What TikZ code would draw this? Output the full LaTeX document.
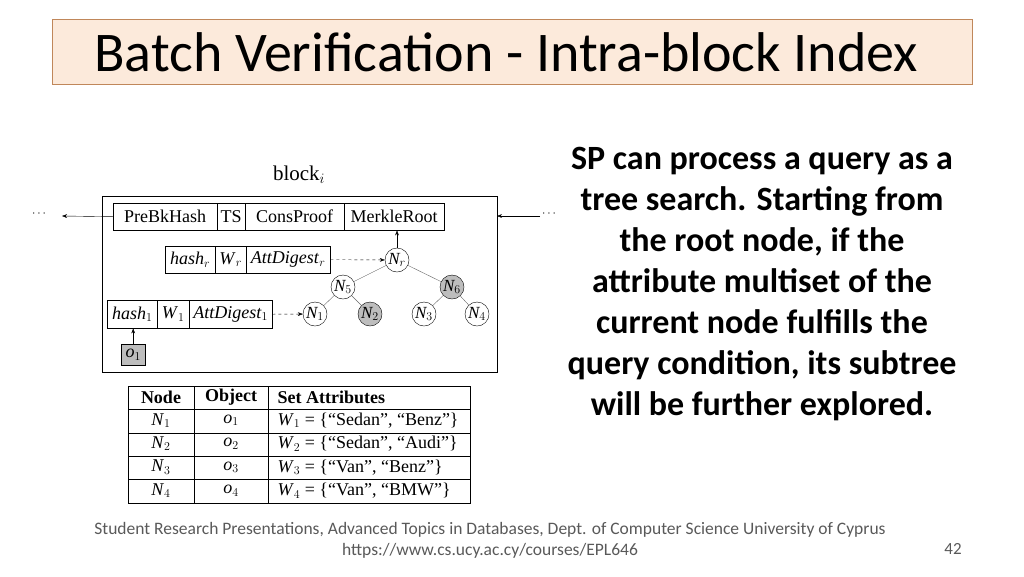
\documentclass[tikz,border=0pt]{standalone}
\usepackage{fontspec}
\setmainfont{Liberation Serif}
\newfontfamily\carl{Carlito}
\usetikzlibrary{arrows.meta}
\definecolor{peach}{HTML}{FCEADB}
\definecolor{brd}{HTML}{C0875A}
\definecolor{ng}{HTML}{BDBDBD}
\begin{document}
\begin{tikzpicture}[x=1pt,y=-1pt,
  cell/.style={draw,inner sep=0,font=\fontsize{18}{20}\selectfont},
  tn/.style={draw,circle,inner sep=0,minimum size=24,font=\fontsize{17}{18}\selectfont\itshape},
  gn/.style={tn,fill=ng},
  arr/.style={-{Stealth[length=5pt]},thin},
  tc/.style={font=\fontsize{18}{20}\selectfont,anchor=center}]
\useasboundingbox (0,0) rectangle (1024,576);
\node[draw=brd,fill=peach,minimum width=920,minimum height=65,anchor=north west] (title) at (52,19) {};
\node[anchor=west,font=\carl\fontsize{56}{60}\selectfont] (tt) at (91,52) {Batch Verification - Intra-block Index};
\node[align=center,font=\carl\bfseries\fontsize{34}{41}\selectfont] (txt) at (762,284) {SP can process a query as a\\tree search. Starting from\\the root node, if the\\attribute multiset of the\\current node fulfills the\\query condition, its subtree\\will be further explored.};
\node[font=\carl\fontsize{17.5}{21}\selectfont,text=black!65,align=center] (foot) at (490,540) {Student Research Presentations, Advanced Topics in Databases, Dept. of Computer Science University of Cyprus\\https://www.cs.ucy.ac.cy/courses/EPL646};
\node[font=\carl\fontsize{17}{18}\selectfont,text=black!65] (pg) at (953,549) {42};
% diagram
\node[font=\fontsize{21}{22}\selectfont] (bl) at (299,175) {block$_i$};
\draw (102,196) rectangle (497,372);
\foreach \n/\a/\b/\t in {pb/113/217/PreBkHash,ts/217/245/TS,cp/245/344/ConsProof,mr/344/444/MerkleRoot}
  \node[cell,minimum width=\b-\a,minimum height=27,anchor=north west] (\n) at (\a,203) {\t};
\foreach \n/\a/\b/\t in {hr/165/215/{\textit{hash}$_r$},wr/215/246/{\textit{W}$_r$},ar/246/330/{\textit{AttDigest}$_r$}}
  \node[cell,minimum width=\b-\a,minimum height=27,anchor=north west] (\n) at (\a,246) {\t};
\foreach \n/\a/\b/\t in {h1/107/157/{\textit{hash}$_1$},w1/157/189/{\textit{W}$_1$},a1/189/272/{\textit{AttDigest}$_1$}}
  \node[cell,minimum width=\b-\a,minimum height=28,anchor=north west] (\n) at (\a,300) {\t};
\node[cell,fill=ng,minimum width=24,minimum height=21,anchor=north west] (o1) at (121,344) {\textit{o}$_1$};
\node[tn] (nr) at (397,260) {N$_r$};
\node[tn] (n5) at (343,287) {N$_5$};
\node[gn] (n6) at (452,287) {N$_6$};
\node[tn] (n1) at (315,314) {N$_1$};
\node[gn] (n2) at (370,314) {N$_2$};
\node[tn] (n3) at (424,314) {N$_3$};
\node[tn] (n4) at (477,314) {N$_4$};
\draw[black!60] (nr)--(n5) (nr)--(n6) (n5)--(n1) (n5)--(n2) (n6)--(n3) (n6)--(n4);
\draw[arr,dashed] (ar.east)--(nr);
\draw[arr,dashed] (a1.east)--(n1);
\draw[arr] (nr.north)--(nr.north|-mr.south);
\draw[arr] (o1.north)--(o1.north|-h1.south);
\coordinate (lend) at (62,216);
\coordinate (rst) at (540,216);
\coordinate (rend) at (497,216);
\draw[arr] (pb.west)--(lend);
\draw[arr] (rst)--(rend);
\node[font=\large] (ld) at (39,214) {$\cdots$};
\node[font=\large] (rd) at (549,214) {$\cdots$};
% table
\draw (128,386) rectangle (470,503);
\foreach \y in {409.4,432.8,456.2,479.6} \draw (128,\y)--(470,\y);
\draw (194,386)--(194,503) (268,386)--(268,503);
\node[tc,font=\fontsize{18}{20}\selectfont\bfseries] (c1) at (161,397) {Node};
\node[tc,font=\fontsize{18}{20}\selectfont\bfseries] (c2) at (231,397) {Object};
\node[tc,font=\fontsize{18}{20}\selectfont\bfseries,anchor=west] (c3) at (274,397) {Set Attributes};
\foreach \i/\a/\b in {1/Sedan/Benz,2/Sedan/Audi,3/Van/Benz,4/Van/BMW}{
  \node[tc] (r\i a) at (161,397+23.4*\i) {\textit{N}$_\i$};
  \node[tc] (r\i b) at (231,397+23.4*\i) {\textit{o}$_\i$};
  \node[tc,anchor=west] (r\i c) at (274,397+23.4*\i) {\textit{W}$_\i$ = \{``\a'', ``\b''\}};
}
\end{tikzpicture}
\end{document}
